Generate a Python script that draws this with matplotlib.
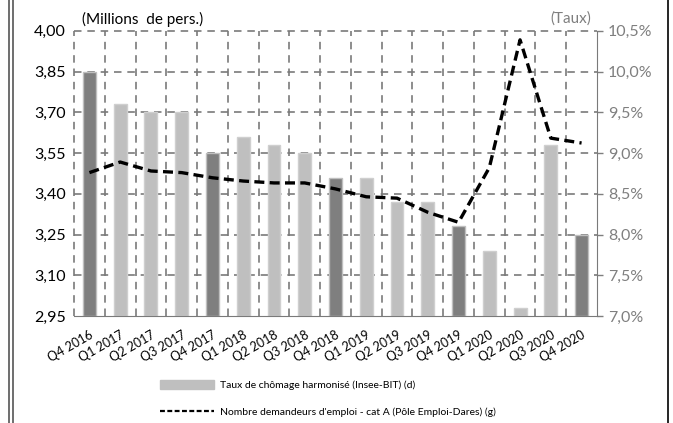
import matplotlib.pyplot as plt
from matplotlib.lines import Line2D
from matplotlib.patches import Patch
import numpy as np

plt.rcParams["font.family"] = ["Lato", "DejaVu Sans"]

quarters = ["Q4 2016", "Q1 2017", "Q2 2017", "Q3 2017", "Q4 2017", "Q1 2018",
            "Q2 2018", "Q3 2018", "Q4 2018", "Q1 2019", "Q2 2019", "Q3 2019",
            "Q4 2019", "Q1 2020", "Q2 2020", "Q3 2020", "Q4 2020"]
# taux de chomage (%), axe de droite
taux = [10.0, 9.6, 9.5, 9.5, 9.0, 9.2, 9.1, 9.0, 8.7, 8.7, 8.4, 8.4,
        8.1, 7.8, 7.1, 9.1, 8.0]
# demandeurs d'emploi cat A (millions), axe de gauche
demandeurs = [3.478, 3.517, 3.484, 3.478, 3.459, 3.447, 3.440, 3.440, 3.418,
              3.389, 3.384, 3.332, 3.295, 3.496, 3.967, 3.605, 3.587]
left_ticks = [2.95, 3.10, 3.25, 3.40, 3.55, 3.70, 3.85, 4.00]
right_ticks = [7.0, 7.5, 8.0, 8.5, 9.0, 9.5, 10.0, 10.5]

fig = plt.figure(figsize=(6.73, 4.23), dpi=100)
fig.patch.set_facecolor("white")
ax = fig.add_axes([0.110, 0.253, 0.777, 0.674])   # bars, right scale
axl = ax.twinx()                                   # line, left scale
ax.patch.set_visible(False)

x = np.arange(len(quarters))
grid_col = "#7a7a7a"

# bars, dark for Q4
colors = ["#7f7f7f" if q.startswith("Q4") else "#bfbfbf" for q in quarters]
edges = ["#bfbfbf" if q.startswith("Q4") else "#cfcfcf" for q in quarters]
ax.bar(x, [t - 7.0 for t in taux], bottom=7.0, width=0.42, color=colors,
       edgecolor=edges, linewidth=1, zorder=2)
x_lo, x_hi = -0.5, len(quarters) - 0.5
ax.set_xlim(x_lo, x_hi)
ax.set_ylim(7.0, 10.5)
ax.set_yticks(right_ticks)
ax.set_yticklabels([("%.1f%%" % v).replace(".", ",") for v in right_ticks])
ax.yaxis.tick_right()
ax.tick_params(axis="y", colors="#7f7f7f", labelsize=11.5, length=4,
               width=1, direction="out", pad=4)
ax.set_xticks(x)
ax.set_xticklabels(quarters, rotation=30, ha="right", rotation_mode="anchor",
                   fontsize=9)
ax.tick_params(axis="x", which="both", length=0, pad=9)

# dashed grid, drawn at figure level underneath the axes content
for v in right_ticks[1:]:
    fig.add_artist(Line2D([x_lo, x_hi], [v, v], transform=ax.transData,
                          color=grid_col, lw=1.2, ls=(0, (4.5, 3.5)),
                          zorder=-1))
for b in np.arange(x_lo, x_hi, 1.0):
    fig.add_artist(Line2D([b, b], [7.0, 10.5], transform=ax.transData,
                          color=grid_col, lw=1.2, ls=(0, (4.5, 3.5)),
                          zorder=-1))

ax.spines["top"].set_visible(False)
ax.spines["left"].set_visible(False)
ax.spines["bottom"].set_color(grid_col)
ax.spines["right"].set_color(grid_col)

# line on the left scale
axl.plot(x, demandeurs, color="black", lw=2.4, ls=(0, (3, 1.6)), zorder=3)
axl.set_ylim(2.95, 4.00)
axl.set_yticks(left_ticks)
axl.set_yticklabels([("%.2f" % v).replace(".", ",") for v in left_ticks])
axl.yaxis.tick_left()
axl.tick_params(axis="y", labelsize=11.5, length=0, pad=6, colors="black")
for s in axl.spines.values():
    s.set_visible(False)

fig.text(0.122, 0.955, "(Millions  de pers.)", fontsize=11, color="black",
         va="center", ha="left")
fig.text(0.878, 0.955, "(Taux)", fontsize=11, color="#7f7f7f",
         va="center", ha="right")

handles = [Patch(facecolor="#bfbfbf", edgecolor="#bfbfbf"),
           Line2D([0], [0], color="black", lw=1.6, ls=(0, (2.2, 1.1)))]
labels = ["Taux de chômage harmonisé (Insee-BIT) (d)",
          "Nombre demandeurs d'emploi - cat A (Pôle Emploi-Dares) (g)"]
fig.legend(handles, labels, loc="center left", bbox_to_anchor=(0.238, 0.058),
           frameon=False, fontsize=7.5, handlelength=5.2, handleheight=0.9,
           handletextpad=0.5, labelspacing=1.6, borderpad=0, borderaxespad=0)

# outer frame lines
for xf, c in ((0.013, "#555555"), (0.019, "#555555"), (0.993, "black")):
    fig.add_artist(Line2D([xf, xf], [0, 1], transform=fig.transFigure,
                          color=c, lw=1.2))

fig.savefig("out.png", dpi=100)
